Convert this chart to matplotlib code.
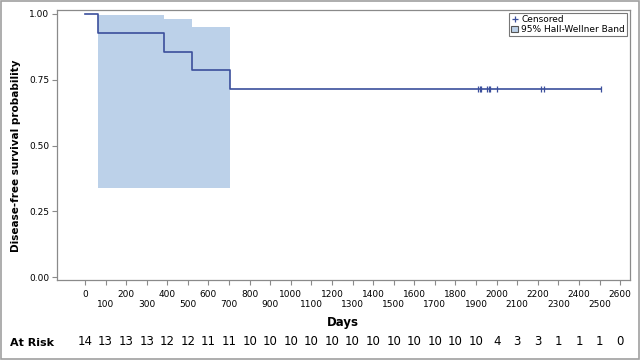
import matplotlib
matplotlib.use('Agg')
import matplotlib.pyplot as plt
from matplotlib.lines import Line2D
from matplotlib.patches import Patch, Rectangle

# Kaplan-Meier step curve (days, survival)
step_days = [0, 65, 382, 520, 705, 2509]
step_surv = [1.0, 0.929, 0.857, 0.786, 0.714, 0.714]

# 95% Hall-Wellner band
band_days = [65, 382, 520, 705]
band_upper = [0.997, 0.981, 0.949, 0.949]
band_lower = [0.338, 0.338, 0.338, 0.338]

# censored observations
cens_days = [1911, 1917, 1924, 1955, 1962, 1968, 2003, 2214, 2230, 2509]
cens_surv = [0.714] * len(cens_days)

# at-risk table
risk_days = list(range(0, 2700, 100))
risk_counts = [14, 13, 13, 13, 12, 12, 11, 11, 10, 10, 10, 10, 10, 10, 10,
               10, 10, 10, 10, 10, 4, 3, 3, 1, 1, 1, 0]

line_col = '#3b4f9c'
band_col = '#bcd1e9'
grey = '#8a8a8a'

fig = plt.figure(figsize=(6.4, 3.6), dpi=100)
ax = fig.add_axes([57/640, 1 - 280/360, 573/640, 270/360])

ax.fill_between(band_days, band_lower, band_upper, step='post', color=band_col, lw=0)
ax.step(step_days, step_surv, where='post', color=line_col, lw=1.2)
ax.plot(cens_days, cens_surv, ls='none', marker='|', ms=4, mew=0.9, color=line_col)

ax.set_xlim(-136, 2648)
ax.set_ylim(-0.011, 1.015)

# even hundreds on the upper row, odd hundreds on the lower row
even_days = risk_days[0::2]
odd_days = risk_days[1::2]
ax.set_xticks(even_days)
ax.set_xticklabels([str(d) for d in even_days])
ax.set_xticks(odd_days, minor=True)
ax.set_xticklabels([str(d) for d in odd_days], minor=True)
ax.set_yticks([0, 0.25, 0.5, 0.75, 1.0])
ax.set_yticklabels(['0.00', '0.25', '0.50', '0.75', '1.00'])
ax.tick_params(axis='both', which='both', labelsize=6.5, color=grey, length=3.5, width=0.8)
ax.tick_params(axis='x', which='major', pad=4)
ax.tick_params(axis='x', which='minor', pad=11)
ax.tick_params(axis='y', pad=2)
for s in ax.spines.values():
    s.set_color(grey)
    s.set_linewidth(0.9)

ax.set_ylabel('Disease-free survival probability', fontsize=7.5, fontweight='bold')
ax.yaxis.set_label_coords(-0.062, 0.459)
ax.text(0.499, -0.156, 'Days', transform=ax.transAxes, ha='center', va='center',
        fontsize=8.5, fontweight='bold')

# at-risk row
trans = ax.get_xaxis_transform()
for d, n in zip(risk_days, risk_counts):
    ax.text(d, -0.226, str(n), transform=trans, ha='center', va='center', fontsize=8.5)
fig.text(10/640, 1 - 343/360, 'At Risk', ha='left', va='center', fontsize=8, fontweight='bold')

handles = [Line2D([], [], ls='none', marker='+', ms=5, mew=0.9, color=line_col),
           Patch(facecolor=band_col, edgecolor='#555555', lw=0.8)]
leg = ax.legend(handles, ['Censored', '95% Hall-Wellner Band'], loc='upper right',
                fontsize=6.5, frameon=True, fancybox=False, handlelength=0.7,
                handletextpad=0.4, borderpad=0.25, labelspacing=0.1,
                borderaxespad=0.3)
leg.get_frame().set_edgecolor('#555555')
leg.get_frame().set_linewidth(0.8)

fig.patches.append(Rectangle((0.001, 0.003), 0.997, 0.994, transform=fig.transFigure,
                             fill=False, edgecolor='#a0a0a0', lw=1.2))

fig.savefig('out.png', dpi=100)
